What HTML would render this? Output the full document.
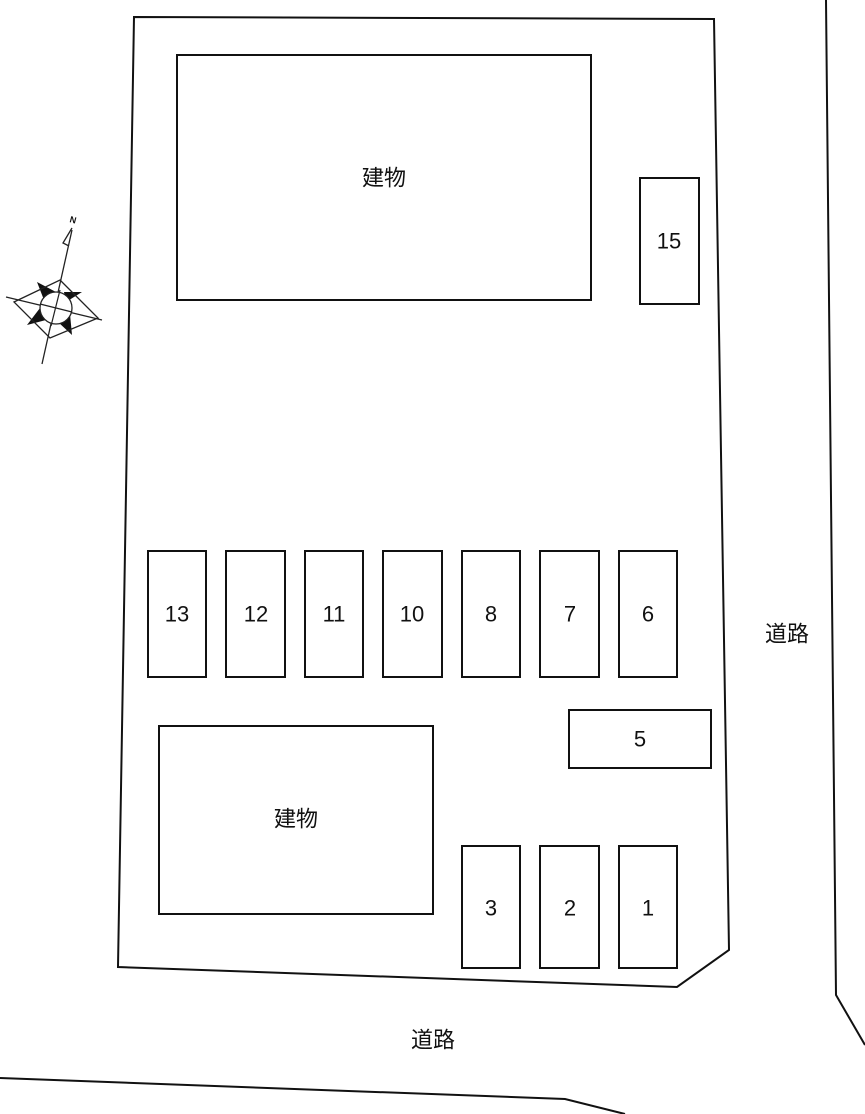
<!DOCTYPE html>
<html><head><meta charset="utf-8"><style>
html,body{margin:0;padding:0;background:#fff;}
svg{display:block;}
text{font-family:"Liberation Sans","Noto Sans CJK JP",sans-serif;font-size:22px;fill:#111;text-anchor:middle;dominant-baseline:central;}
</style></head><body>
<svg width="865" height="1114" viewBox="0 0 865 1114">
<g fill="none" stroke="#111" stroke-width="2">
<polygon points="134,17 714,19 729,950 677,987 118,967"/>
<polyline points="826,0 836,995 865,1045"/>
<polyline points="0,1078 565,1099 625,1114"/>
<rect x="177" y="55" width="414" height="245"/>
<rect x="640" y="178" width="59" height="126"/>
<rect x="148" y="551" width="58" height="126"/>
<rect x="226" y="551" width="59" height="126"/>
<rect x="305" y="551" width="58" height="126"/>
<rect x="383" y="551" width="59" height="126"/>
<rect x="462" y="551" width="58" height="126"/>
<rect x="540" y="551" width="59" height="126"/>
<rect x="619" y="551" width="58" height="126"/>
<rect x="569" y="710" width="142" height="58"/>
<rect x="159" y="726" width="274" height="188"/>
<rect x="462" y="846" width="58" height="122"/>
<rect x="540" y="846" width="59" height="122"/>
<rect x="619" y="846" width="58" height="122"/>
</g>
<text x="384" y="178">建物</text>
<text x="669" y="241">15</text>
<text x="177" y="614">13</text>
<text x="256" y="614">12</text>
<text x="334" y="614">11</text>
<text x="412" y="614">10</text>
<text x="491" y="614">8</text>
<text x="570" y="614">7</text>
<text x="648" y="614">6</text>
<text x="640" y="739">5</text>
<text x="296" y="819">建物</text>
<text x="491" y="908">3</text>
<text x="570" y="908">2</text>
<text x="648" y="908">1</text>
<text x="787" y="634">道路</text>
<text x="433" y="1040">道路</text>
<!-- compass -->
<g fill="#111">
<polygon points="37,282 56,292 44,300"/>
<polygon points="82,292 66,302 64,292"/>
<polygon points="27,325 40,308 46,320"/>
<polygon points="72,335 58,322 70,314"/>
</g>
<g stroke="#222" stroke-width="1.3" fill="none">
<line x1="72" y1="230" x2="42" y2="364"/>
<polyline points="72,228 63,243 69,246"/>
<line x1="6" y1="297" x2="102" y2="320"/>
<polygon points="60,280 98,318 50,338 14,302" />
</g>
<circle cx="56" cy="308" r="16" fill="#fff" stroke="#222" stroke-width="1.3"/>
<g stroke="#222" stroke-width="1.2">
<line x1="60" y1="290" x2="51" y2="326"/>
<line x1="40" y1="304" x2="72" y2="312"/>
</g>
<text x="73" y="220" style="font-size:9px;font-weight:bold" transform="rotate(15 73 220)">N</text>
</svg>
</body></html>
